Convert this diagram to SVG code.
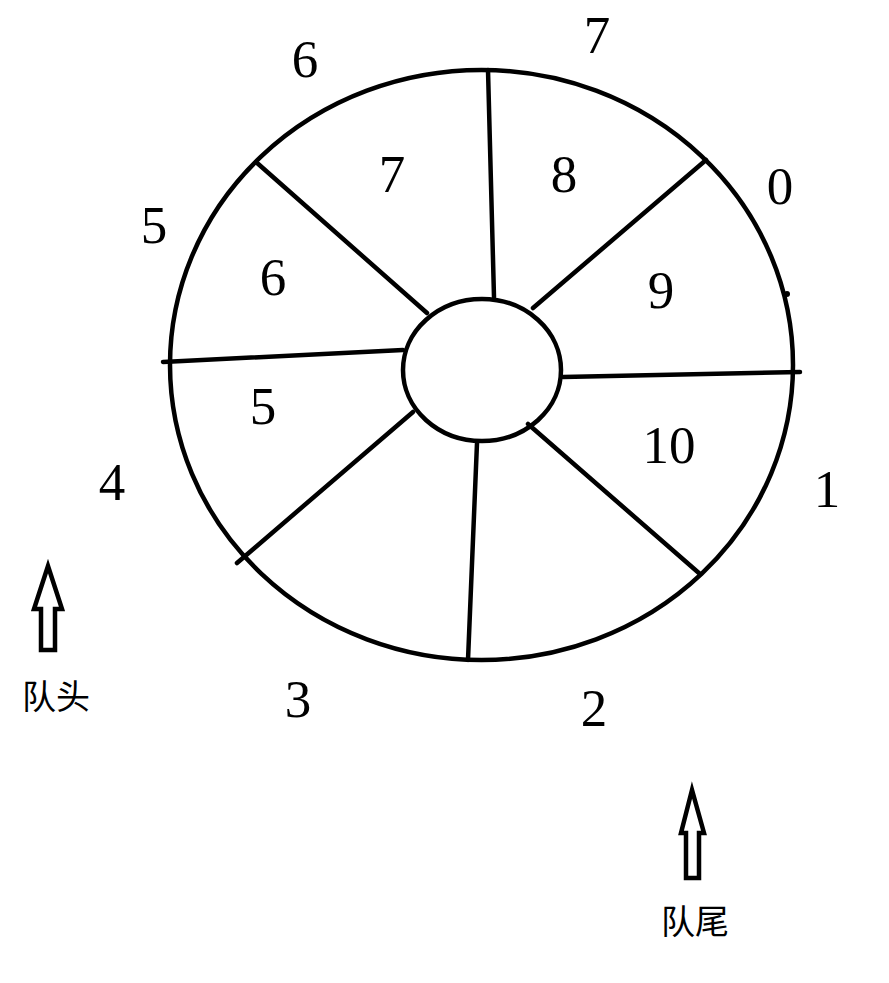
<svg xmlns="http://www.w3.org/2000/svg" width="889" height="983" viewBox="0 0 889 983">
<style>
.ln{stroke:#000;stroke-width:4.5;fill:none;stroke-linecap:round}
.num{font-family:"Liberation Serif","DejaVu Serif",serif;font-size:53px;fill:#000;text-anchor:middle}
.cn{font-family:"Liberation Serif","Noto Sans CJK SC",serif;font-size:34px;fill:#000}
.arr{stroke:#000;stroke-width:4.5;fill:#fff;stroke-linejoin:miter}
</style>
<rect width="889" height="983" fill="#fff"/>
<g id="wheel">
<ellipse class="ln" cx="481.5" cy="365" rx="311.5" ry="295"/>
<ellipse class="ln" cx="482" cy="370" rx="79" ry="71"/>
<circle cx="787" cy="294" r="3" fill="#000"/>
</g>
<g id="connectors">
<line class="ln" x1="488" y1="70" x2="494" y2="297"/>
<line class="ln" x1="706" y1="160" x2="533" y2="308"/>
<line class="ln" x1="800" y1="372" x2="563" y2="377"/>
<line class="ln" x1="700" y1="574" x2="528" y2="424"/>
<line class="ln" x1="468" y1="660" x2="477" y2="443"/>
<line class="ln" x1="237" y1="563" x2="413" y2="412"/>
<line class="ln" x1="163" y1="362" x2="403" y2="350"/>
<line class="ln" x1="256" y1="162" x2="427" y2="313"/>
</g>
<g id="outer-labels">
<text class="num" x="305" y="77">6</text>
<text class="num" x="597" y="53">7</text>
<text class="num" x="780" y="204">0</text>
<text class="num" x="154" y="243">5</text>
<text class="num" x="827" y="507">1</text>
<text class="num" x="112" y="500">4</text>
<text class="num" x="298" y="717">3</text>
<text class="num" x="594" y="726">2</text>
</g>
<g id="inner-labels">
<text class="num" x="392" y="192">7</text>
<text class="num" x="564" y="192">8</text>
<text class="num" x="273" y="295">6</text>
<text class="num" x="661" y="308">9</text>
<text class="num" x="263" y="424">5</text>
<text class="num" x="669" y="463">10</text>
</g>
<g id="head">
<polygon class="arr" points="48,566 34,609 41,609 41,650 55,650 55,609 62,609"/>
<text class="cn" x="22" y="709">队头</text>
</g>
<g id="tail">
<polygon class="arr" points="692,790 681,833 686,833 686,878 699,878 699,833 704,833"/>
<text class="cn" x="661" y="934">队尾</text>
</g>
</svg>
